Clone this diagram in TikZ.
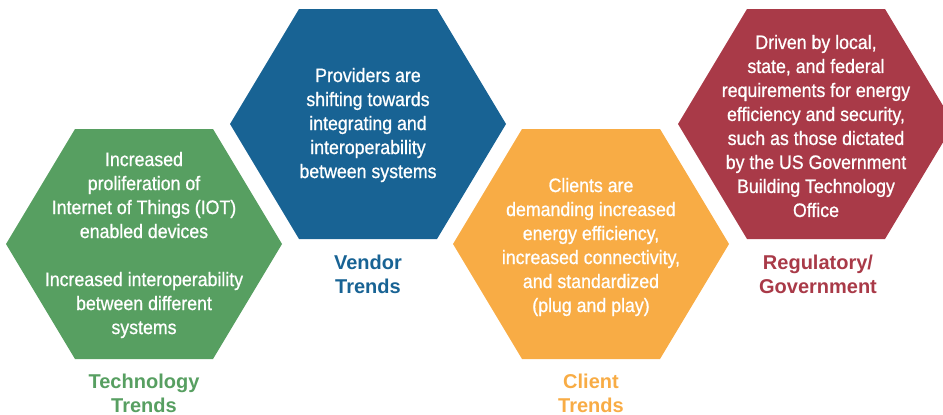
\documentclass[tikz,border=0pt]{standalone}
\usepackage{fontspec}
\setmainfont{Liberation Sans}
\newfontfamily\hexfont{Liberation Sans}[FakeStretch=0.91,FakeBold=0.8]
\newfontfamily\capfont{Liberation Sans}
\definecolor{techgreen}{RGB}{87,159,97}
\definecolor{vendorblue}{RGB}{24,99,148}
\definecolor{clientorange}{RGB}{248,172,69}
\definecolor{regred}{RGB}{169,58,72}
\begin{document}
\begin{tikzpicture}[x=1pt,y=-1pt,
  hextext/.style={text=white, align=center, font=\hexfont\fontsize{19.5}{24}\selectfont},
  captext/.style={align=center, font=\capfont\bfseries\fontsize{20}{24}\selectfont}]
  \useasboundingbox (0,0) rectangle (943,415);
  \clip (0,0) rectangle (943,415);

  % hexagonal panels: centre x, centre y, colour
  \foreach \cx/\cy/\col in {144/244/techgreen, 368/124/vendorblue, 591/244/clientorange, 816/124/regred}{
    \fill[\col] (\cx-138,\cy) -- (\cx-69,\cy-115) -- (\cx+69,\cy-115) -- (\cx+138,\cy)
      -- (\cx+69,\cy+115) -- (\cx-69,\cy+115) -- cycle;
  }

  % panel texts
  \node[hextext] (tech) at (144,245) {Increased\\proliferation of\\Internet of Things (IOT)\\enabled devices\\[24pt]Increased interoperability\\between different\\systems};
  \node[hextext] (vendor) at (368,125) {Providers are\\shifting towards\\integrating and\\interoperability\\between systems};
  \node[hextext] (client) at (591,247) {Clients are\\demanding increased\\energy efficiency,\\increased connectivity,\\and standardized\\(plug and play)};
  \node[hextext] (reg) at (816,126) {Driven by local,\\state, and federal\\requirements for energy\\efficiency and security,\\such as those dictated\\by the US Government\\Building Technology\\Office};

  % captions
  \node[captext, text=techgreen] (techcap) at (144,393) {Technology\\Trends};
  \node[captext, text=vendorblue] (vendorcap) at (368,274) {Vendor\\Trends};
  \node[captext, text=clientorange] (clientcap) at (591,393) {Client\\Trends};
  \node[captext, text=regred] (regcap) at (818,274) {Regulatory/\\Government};
\end{tikzpicture}
\end{document}
